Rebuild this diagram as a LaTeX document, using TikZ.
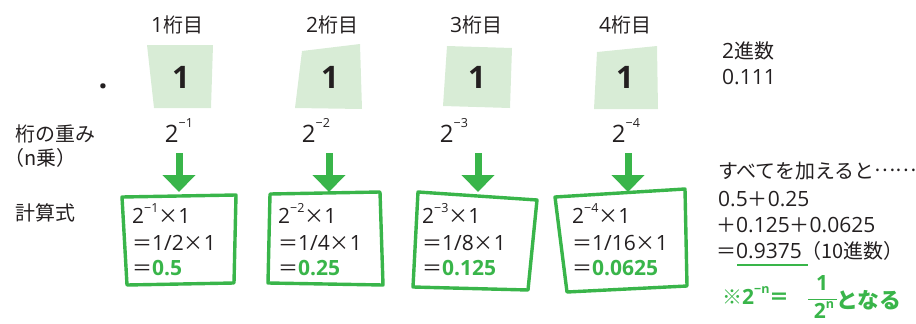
\documentclass[tikz,border=0pt]{standalone}
\usepackage{fontspec}
\setmainfont{Open Sans}
\newfontfamily\jp{Noto Sans CJK JP}[Scale=0.95]
\usetikzlibrary{arrows.meta}
\definecolor{midori}{RGB}{57,181,74}
\definecolor{usumidori}{RGB}{216,236,214}
\definecolor{sumi}{RGB}{35,31,32}
\newcommand\jo[2][0.5em]{\raisebox{#1}{\fontsize{12.5pt}{12.5pt}\selectfont #2}}
\begin{document}
\begin{tikzpicture}[x=1pt,y=-1pt,line join=round,
	txt/.style={inner sep=0pt,text=sumi,font=\fontsize{21pt}{26pt}\selectfont},
	big/.style={inner sep=0pt,text=sumi,font=\fontsize{31pt}{31pt}\selectfont\bfseries},
	ya/.style={midori,line width=7pt,-{Triangle[width=32pt,length=17pt]}},
	waku/.style={draw=midori,line width=3.4pt}]
	\useasboundingbox (0,0) rectangle (916,324);
	% 桁のマス
	\fill[usumidori] (147,45)--(213,45)--(211,108)--(154,108)--cycle;
	\fill[usumidori] (302,51)--(360,44)--(362,109)--(295,108)--cycle;
	\fill[usumidori] (447,46)--(512,48)--(510,108)--(443,106)--cycle;
	\fill[usumidori] (597,52)--(657,46)--(658,109)--(594,109)--cycle;
	% 計算式の枠
	\draw[waku] (122,197)--(236,195)--(234,283)--(127,285)--cycle;
	\draw[waku] (270,194)--(380,192)--(383,285)--(268,283)--cycle;
	\draw[waku] (418,192)--(537,200)--(528,290)--(413,287)--cycle;
	\draw[waku] (555,197)--(685,189)--(687,286)--(567,292)--cycle;
	\node[big,anchor=base] (ten) at (103,88) {.};
	\foreach \i/\hx/\dx/\wx/\ax in {1/177/181/179/179, 2/332/330/316/329, 3/476/477/454/478, 4/625/625/626/628}{
		\node[txt,anchor=base] (h\i) at (\hx,32) {\i{\jp 桁目}};
		\node[big,anchor=base] (d\i) at (\dx,88) {1};
		\node[txt,font=\fontsize{24pt}{24pt}\selectfont,anchor=base] (w\i) at (\wx,142) {2\jo[0.62em]{−\i}};
		\coordinate (a\i) at (\ax,153);
		\coordinate (t\i) at (\ax,192);
		\draw[ya] (a\i)--(t\i);
	}
	\foreach \i/\bx/\bun/\kotae in {1/132/2/0.5, 2/278/4/0.25, 3/422/8/0.125, 4/572/16/0.0625}{
		\node[txt,anchor=base west] (s\i) at (\bx,223) {2\jo{−\i}{\jp ×}1};
		\node[txt,anchor=base west] (m\i) at (\bx,250) {{\jp ＝}1/\bun{\jp ×}1};
		\node[txt,anchor=base west] (e\i) at (\bx,275) {{\jp ＝}\textcolor{midori}{\bfseries\kotae}};
	}
	\node[txt,anchor=base west] (shin) at (722,58) {2{\jp 進数}};
	\node[txt,anchor=base west] (bin) at (722,84) {0.111};
	\node[txt,anchor=base west] (omomi) at (15,141) {\jp 桁の重み};
	\node[txt,anchor=base west] (njo) at (4,165) {\jp （n乗）};
	\node[txt,anchor=base west] (keisan) at (15,220) {\jp 計算式};
	% 合計
	\node[txt,anchor=base west] (r1) at (718,178) {{\jp すべてを加えると}\raisebox{0.3em}{\jp ……}};
	\node[txt,anchor=base west] (r2) at (718,206) {0.5{\jp ＋}0.25};
	\node[txt,anchor=base west] (r3) at (716,232) {{\jp ＋}0.125{\jp ＋}0.0625};
	\node[txt,anchor=base west] (r4) at (716,258) {{\jp ＝}0.9375{\jp （10進数）}};
	\draw[midori,line width=1.2pt] (737,265)--(808,265);
	\begin{scope}[every node/.style={txt,text=midori,font=\fontsize{21pt}{22pt}\selectfont\bfseries}]
		\node[anchor=base west] (chui) at (722,304) {{\jp ※}2\jo{−n}{\jp ＝}};
		\node[anchor=base] (bunshi) at (822,290) {1};
		\node[anchor=base] (bunbo) at (824,318) {2\jo[0.45em]{n}};
		\node[anchor=base west,font=\fontsize{23pt}{23pt}\selectfont\bfseries] (naru) at (836,308) {\jp となる};
	\end{scope}
	\draw[midori,line width=1pt] (808,299)--(837,299);
\end{tikzpicture}
\end{document}
